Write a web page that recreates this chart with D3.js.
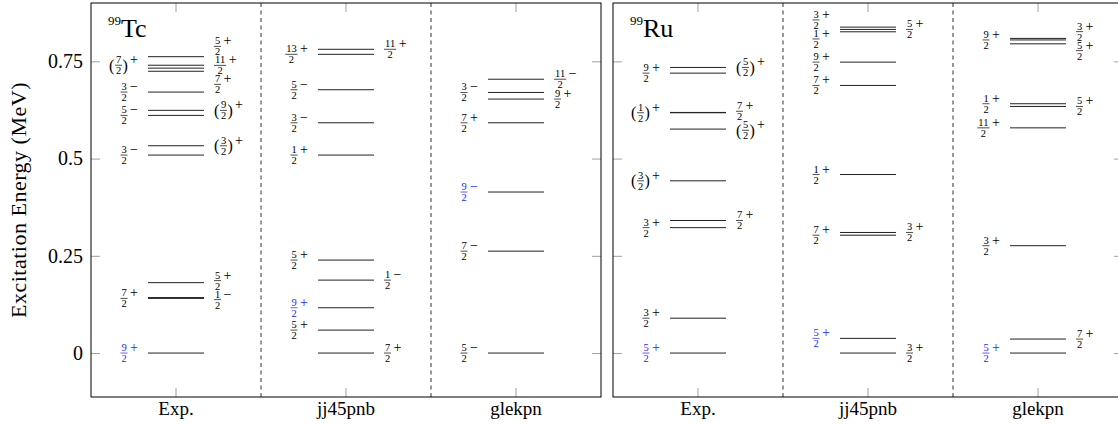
<!DOCTYPE html>
<html>
<head>
<meta charset="utf-8">
<script src="https://cdn.jsdelivr.net/npm/d3@7"></script>
<style>
  body { margin: 0; background: #fff; }
  text { font-family: "Liberation Serif", "DejaVu Serif", serif; fill: #000; }
</style>
</head>
<body>
<svg id="chart" width="1118" height="425"></svg>
<script>
// ---- data ----
var columns = ["Exp.", "jj45pnb", "glekpn"];
var nuclei = ["Tc", "Ru"];
var massNumber = "99";
var yTicks = [0, 0.25, 0.5, 0.75];
var yTickLabels = ["0", "0.25", "0.5", "0.75"];

// each level: [energy (MeV), spin, parity, tentative, label side]
var tcExp = [
  [0.000, "9/2", "+", 0, "L"],
  [0.1405, "7/2", "+", 0, "L"],
  [0.1427, "1/2", "−", 0, "R"],
  [0.181, "5/2", "+", 0, "R"],
  [0.509, "3/2", "−", 0, "L"],
  [0.533, "3/2", "+", 1, "R"],
  [0.611, "5/2", "−", 0, "L"],
  [0.624, "9/2", "+", 1, "R"],
  [0.671, "3/2", "−", 0, "L"],
  [0.7245, "7/2", "+", 0, "R"],
  [0.7325, "11/2", "+", 0, "R"],
  [0.740, "7/2", "+", 1, "L"],
  [0.762, "5/2", "+", 0, "R"]
];
var tcJJ = [
  [0.000, "7/2", "+", 0, "R"],
  [0.059, "5/2", "+", 0, "L"],
  [0.1165, "9/2", "+", 0, "L"],
  [0.1875, "1/2", "−", 0, "R"],
  [0.239, "5/2", "+", 0, "L"],
  [0.509, "1/2", "+", 0, "L"],
  [0.592, "3/2", "−", 0, "L"],
  [0.677, "5/2", "−", 0, "L"],
  [0.768, "13/2", "+", 0, "L"],
  [0.781, "11/2", "+", 0, "R"]
];
var tcGlek = [
  [0.000, "5/2", "−", 0, "L"],
  [0.262, "7/2", "−", 0, "L"],
  [0.414, "9/2", "−", 0, "L"],
  [0.592, "7/2", "+", 0, "L"],
  [0.653, "9/2", "+", 0, "R"],
  [0.670, "3/2", "−", 0, "L"],
  [0.704, "11/2", "−", 0, "R"]
];
var ruExp = [
  [0.000, "5/2", "+", 0, "L"],
  [0.0896, "3/2", "+", 0, "L"],
  [0.3224, "3/2", "+", 0, "L"],
  [0.3408, "7/2", "+", 0, "R"],
  [0.4428, "3/2", "+", 1, "L"],
  [0.5758, "5/2", "+", 1, "R"],
  [0.6178, "1/2", "+", 1, "L"],
  [0.6186, "7/2", "+", 0, "R"],
  [0.7197, "9/2", "+", 0, "L"],
  [0.7343, "5/2", "+", 1, "R"]
];
var ruJJ = [
  [0.000, "3/2", "+", 0, "R"],
  [0.0377, "5/2", "+", 0, "L"],
  [0.303, "7/2", "+", 0, "L"],
  [0.310, "3/2", "+", 0, "R"],
  [0.459, "1/2", "+", 0, "L"],
  [0.688, "7/2", "+", 0, "L"],
  [0.748, "9/2", "+", 0, "L"],
  [0.826, "1/2", "+", 0, "L"],
  [0.832, "5/2", "+", 0, "R"],
  [0.838, "3/2", "+", 0, "L"]
];
var ruGlek = [
  [0.000, "5/2", "+", 0, "L"],
  [0.036, "7/2", "+", 0, "R"],
  [0.276, "3/2", "+", 0, "L"],
  [0.579, "11/2", "+", 0, "L"],
  [0.634, "5/2", "+", 0, "R"],
  [0.641, "1/2", "+", 0, "L"],
  [0.795, "5/2", "+", 0, "R"],
  [0.805, "9/2", "+", 0, "L"],
  [0.809, "3/2", "+", 0, "R"]
];
var levelSets = [[tcExp, tcJJ, tcGlek], [ruExp, ruJJ, ruGlek]];

// ---- layout ----
var svg = d3.select("#chart");
var panelLeft = [91, 613];
var panelW = 510;
var yTop = 3, yBottom = 397;
var halfLine = 28, labelGap = 10, minSep = 19;
var hiColor = "#1f1fff";

var y = d3.scaleLinear().domain([-0.113, 0.9]).range([yBottom, yTop]);

// y axis title
svg.append("text")
  .attr("transform", "translate(26," + ((yTop + yBottom) / 2) + ") rotate(-90)")
  .attr("text-anchor", "middle")
  .style("font-size", "22px")
  .style("letter-spacing", "0.5px")
  .text("Excitation Energy (MeV)");

// spread labels on one side so they do not overlap
function spread(items) {
  items.sort(function(a, b) { return a.ty - b.ty; });
  var groups = items.map(function(d) { return { m: [d], y0: d.ty }; });
  var again = true;
  while (again) {
    again = false;
    for (var i = 0; i < groups.length - 1; i++) {
      var g = groups[i], h = groups[i + 1];
      if (g.y0 + g.m.length * minSep > h.y0) {
        var m = g.m.concat(h.m);
        var mean = d3.mean(m, function(d) { return d.ty; });
        groups.splice(i, 2, { m: m, y0: mean - (m.length - 1) * minSep / 2 });
        again = true;
        break;
      }
    }
  }
  groups.forEach(function(g) {
    g.m.forEach(function(d, k) { d.ly = g.y0 + k * minSep; });
  });
}

function drawLabel(parent, d, color) {
  var g = parent.append("g");
  var x = 0;
  if (d.tent) {
    g.append("text").attr("x", x).attr("y", 5.5).style("font-size", "16px").style("fill", color).text("(");
    x += 6;
  }
  var parts = d.spin.split("/");
  var fw = parts[0].length * 5.2 + 1.8;
  g.append("text").attr("x", x + fw / 2).attr("y", -2).attr("text-anchor", "middle")
    .style("font-size", "10.5px").style("fill", color).text(parts[0]);
  g.append("text").attr("x", x + fw / 2).attr("y", 9).attr("text-anchor", "middle")
    .style("font-size", "10.5px").style("fill", color).text(parts[1]);
  g.append("line").attr("x1", x).attr("x2", x + fw).attr("y1", 0).attr("y2", 0)
    .attr("stroke", color).attr("stroke-width", 0.7);
  x += fw + 0.5;
  if (d.tent) {
    g.append("text").attr("x", x).attr("y", 5.5).style("font-size", "16px").style("fill", color).text(")");
    x += 5.5;
  }
  x += 2;
  g.append("text").attr("x", x).attr("y", -1).style("font-size", "14px").style("fill", color).text(d.par);
  return g;
}

nuclei.forEach(function(nuc, p) {
  var left = panelLeft[p];
  var x = d3.scaleBand().domain(columns).range([left, left + panelW]);
  var panel = svg.append("g");

  // ticks (inward, light grey)
  var axL = d3.axisLeft(y).tickValues(yTicks).tickSize(-9).tickPadding(8)
    .tickFormat(function(d, i) { return p === 0 ? yTickLabels[i] : ""; });
  var gL = panel.append("g").attr("transform", "translate(" + left + ",0)").call(axL);
  var gR = panel.append("g").attr("transform", "translate(" + (left + panelW) + ",0)")
    .call(d3.axisRight(y).tickValues(yTicks).tickSize(-9).tickFormat(""));
  var gT = panel.append("g").attr("transform", "translate(0," + yTop + ")")
    .call(d3.axisTop(x).tickSize(-9).tickFormat(""));
  var gB = panel.append("g").attr("transform", "translate(0," + yBottom + ")")
    .call(d3.axisBottom(x).tickSize(-9).tickPadding(5));
  [gL, gR, gT, gB].forEach(function(g) {
    g.select(".domain").remove();
    g.selectAll(".tick line").attr("stroke", "#a0a0a0").attr("stroke-width", 1);
    g.selectAll(".tick text").style("font-size", "20px")
      .style("font-family", "'Liberation Serif', 'DejaVu Serif', serif").attr("fill", "#000");
  });
  gB.selectAll(".tick text").style("font-size", "19px");

  // column separators
  columns.slice(1).forEach(function(c) {
    panel.append("line").attr("x1", x(c)).attr("x2", x(c)).attr("y1", yTop).attr("y2", yBottom)
      .attr("stroke", "#555").attr("stroke-width", 1.2).attr("stroke-dasharray", "4,3.5");
  });

  // frame
  panel.append("rect").attr("x", left).attr("y", yTop).attr("width", panelW).attr("height", yBottom - yTop)
    .attr("fill", "none").attr("stroke", "#000").attr("stroke-width", 1);

  // nucleus name
  var t = panel.append("text").attr("x", left + 17).attr("y", 37);
  t.append("tspan").style("font-size", "13px").attr("dy", -12).text(massNumber);
  t.append("tspan").style("font-size", "26px").attr("dy", 12).text(nuc);

  // ground-state spin of experiment
  var gsSpin = levelSets[p][0].slice().sort(function(a, b) { return a[0] - b[0]; })[0][1];

  columns.forEach(function(col, c) {
    var cx = x(col) + x.bandwidth() / 2;
    var levels = levelSets[p][c].map(function(r) {
      return { e: r[0], spin: r[1], par: r[2], tent: r[3], side: r[4], ty: y(r[0]) };
    });
    var firstSame = levels.filter(function(d) { return d.spin === gsSpin; })
      .sort(function(a, b) { return a.e - b.e; })[0];

    panel.selectAll(null).data(levels).enter().append("line")
      .attr("x1", cx - halfLine).attr("x2", cx + halfLine)
      .attr("y1", function(d) { return y(d.e); }).attr("y2", function(d) { return y(d.e); })
      .attr("stroke", "#222").attr("stroke-width", 1);

    ["L", "R"].forEach(function(side) {
      var items = levels.filter(function(d) { return d.side === side; });
      spread(items);
      items.forEach(function(d) {
        var color = d === firstSame ? hiColor : "#000";
        var g = drawLabel(panel, d, color);
        var bb = g.node().getBBox();
        var lx = side === "L" ? cx - halfLine - labelGap - (bb.x + bb.width) : cx + halfLine + labelGap;
        g.attr("transform", "translate(" + lx + "," + d.ly + ")");
      });
    });
  });
});
</script>
</body>
</html>
